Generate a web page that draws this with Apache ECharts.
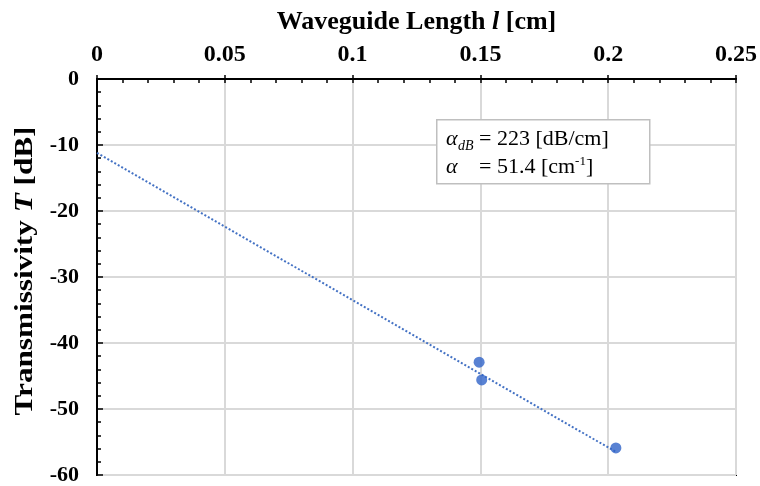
<!DOCTYPE html>
<html><head><meta charset="utf-8">
<script src="https://cdn.jsdelivr.net/npm/echarts@6/dist/echarts.min.js"></script>
<style>html,body{margin:0;padding:0;background:#fff}#c{width:760px;height:486px}</style>
</head><body><div id="c"></div>
<script>
// Data
const lengthCm = [0.1495, 0.1505, 0.203];
const transmissivityDb = [-42.9, -45.6, -55.9];
const trendX = [0, 0.203];
const trendY = [-11.2, -56.5];
const xMin = 0, xMax = 0.25, xStep = 0.05;
const yMin = -60, yMax = 0, yStep = 10;
const xTitle = 'Waveguide Length {i|l} [cm]';
const yTitle = 'Transmissivity {i|T} [dB]';
const annotLine1 = '= 223 [dB/cm]';
const annotLine2 = '= 51.4 [cm{sup|-1}]';

const FONT = 'Liberation Serif';
const BLUE = '#4472C4';
const DOT = '#3063C8';
const GRID = '#d9d9d9';

const chart = echarts.init(document.getElementById('c'), null, {renderer: 'canvas'});
const points = lengthCm.map((x, i) => [x, transmissivityDb[i]]);
const trend = trendX.map((x, i) => [x, trendY[i]]);

const nameStyle = {fontFamily: FONT, fontWeight: 'bold', fontSize: 26, color: '#000',
  rich: {i: {fontFamily: FONT, fontWeight: 'bold', fontStyle: 'italic', fontSize: 26, color: '#000'}}};

chart.setOption({
  animation: false,
  grid: {left: 97, top: 79, right: 23, bottom: 8, show: true, borderColor: '#000', borderWidth: 2, backgroundColor: 'transparent'},
  xAxis: [{
    type: 'value', position: 'top', min: xMin, max: xMax, interval: xStep,
    axisLine: {show: true, lineStyle: {color: '#000', width: 2}},
    axisTick: {show: true, inside: true, length: 4, lineStyle: {color: '#000', width: 1.5}},
    minorTick: {show: true, splitNumber: 5, length: 4, lineStyle: {color: '#000', width: 1.5}},
    splitLine: {show: true, lineStyle: {color: GRID, width: 2}},
    axisLabel: {margin: 12, fontFamily: FONT, fontWeight: 'bold', fontSize: 24, color: '#000'},
    name: xTitle, nameLocation: 'middle', nameGap: 44,
    nameTextStyle: nameStyle
  }, {
    type: 'value', position: 'top', min: xMin, max: xMax, interval: xStep,
    axisLine: {show: false},
    axisTick: {show: true, inside: false, length: 4, lineStyle: {color: '#000', width: 1.5}},
    axisLabel: {show: false}, splitLine: {show: false}
  }],
  yAxis: {
    type: 'value', min: yMin, max: yMax, interval: yStep,
    axisLine: {show: true, lineStyle: {color: '#000', width: 2}},
    axisTick: {show: true, inside: true, length: 6, lineStyle: {color: '#000', width: 1.5}},
    minorTick: {show: true, splitNumber: 5, length: 4, lineStyle: {color: '#000', width: 1.5}},
    splitLine: {show: true, lineStyle: {color: GRID, width: 2}},
    axisLabel: {margin: 18, fontFamily: FONT, fontWeight: 'bold', fontSize: 22, color: '#000'}
  },
  series: [{
    type: 'line', data: trend, xAxisIndex: 0, showSymbol: false, symbol: 'none',
    lineStyle: {color: BLUE, width: 2, type: [2, 2]}, z: 2
  }, {
    type: 'scatter', data: points, xAxisIndex: 0, symbol: 'circle', symbolSize: 11,
    itemStyle: {color: DOT}, z: 3
  }],
  graphic: [{
    type: 'text', x: 25, y: 271, rotation: Math.PI / 2, scaleX: 1.2, z: 11,
    style: {text: yTitle, fontFamily: FONT, fontWeight: 'bold', fontSize: 26, fill: '#000',
      align: 'center', verticalAlign: 'middle',
      rich: {i: {fontFamily: FONT, fontWeight: 'bold', fontStyle: 'italic', fontSize: 26, fill: '#000'}}}
  }, {
    type: 'rect', left: 436, top: 119, shape: {width: 213, height: 64},
    style: {fill: '#fff', stroke: '#bfbfbf', lineWidth: 1.5}, z: 10
  }, {
    type: 'text', x: 446, y: 139, z: 11,
    style: {text: 'α', font: 'italic 22px "Liberation Serif"', fill: '#000', verticalAlign: 'middle'}
  }, {
    type: 'text', x: 458, y: 146, z: 11,
    style: {text: 'dB', font: 'italic 14px "Liberation Serif"', fill: '#000', verticalAlign: 'middle'}
  }, {
    type: 'text', x: 479, y: 139, z: 11,
    style: {text: annotLine1, font: '22px "Liberation Serif"', fill: '#000', verticalAlign: 'middle'}
  }, {
    type: 'text', x: 446, y: 167, z: 11,
    style: {text: 'α', font: 'italic 22px "Liberation Serif"', fill: '#000', verticalAlign: 'middle'}
  }, {
    type: 'text', x: 479, y: 167, z: 11,
    style: {text: annotLine2, fontFamily: FONT, fontSize: 22, fill: '#000', verticalAlign: 'middle',
      rich: {sup: {fontFamily: FONT, fontSize: 13, verticalAlign: 'top', lineHeight: 24}}}
  }]
});
</script></body></html>
